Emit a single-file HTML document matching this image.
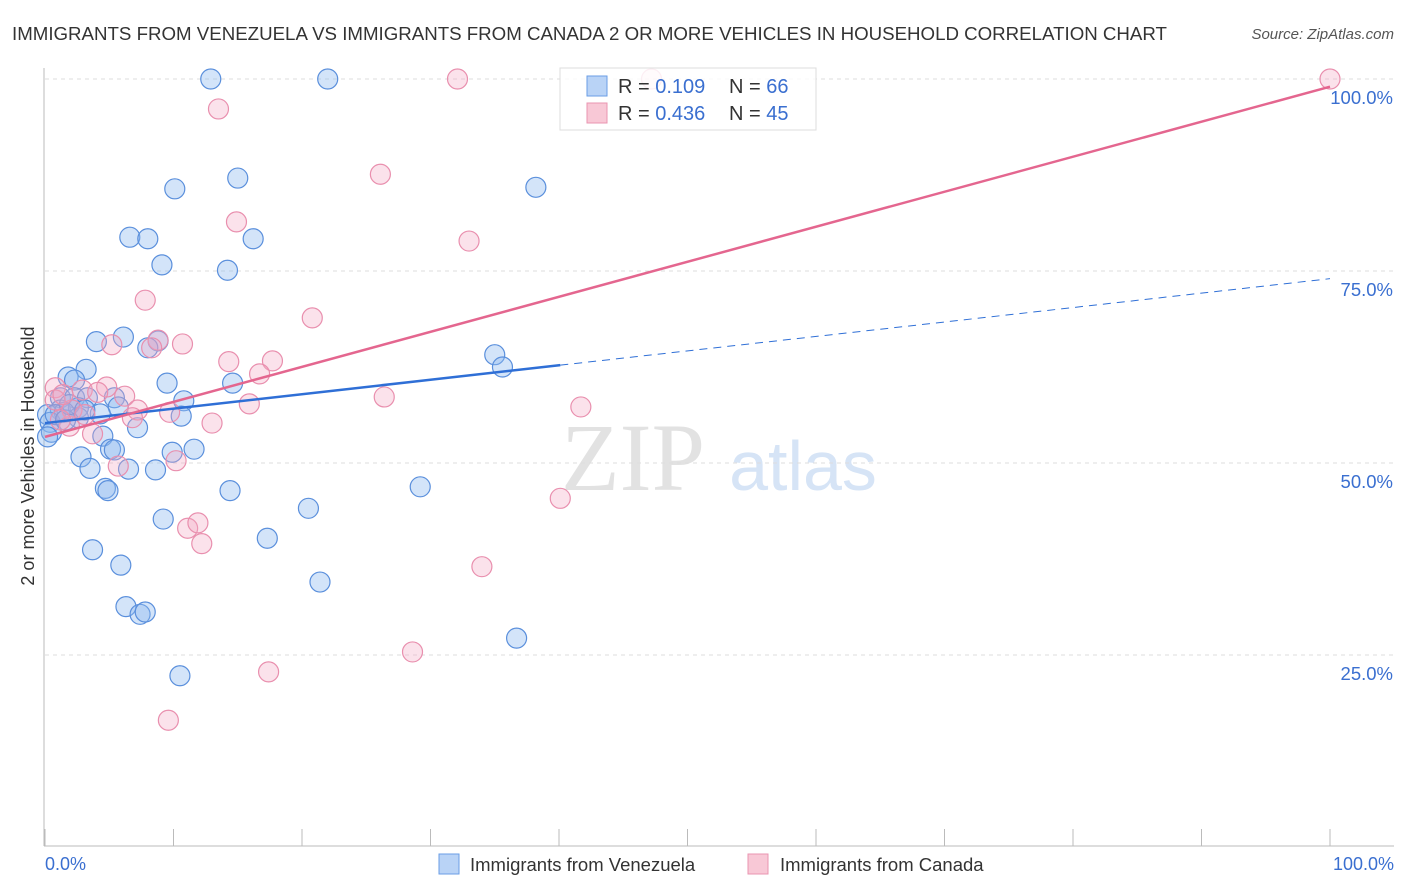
<!DOCTYPE html>
<html><head><meta charset="utf-8"><style>
body{margin:0;background:#fff;font-family:"Liberation Sans",sans-serif;}
svg{display:block}
</style></head><body>
<svg id="chart" width="1406" height="892">
<text x="12" y="40" font-size="18.7" fill="#333">IMMIGRANTS FROM VENEZUELA VS IMMIGRANTS FROM CANADA 2 OR MORE VEHICLES IN HOUSEHOLD CORRELATION CHART</text>
<text x="1394" y="39" font-size="15" fill="#555" font-style="italic" text-anchor="end">Source: ZipAtlas.com</text>
<g>
<text x="633" y="490" font-size="96" font-family="Liberation Serif,serif" fill="#e2e2e2" text-anchor="middle">ZIP</text>
<text x="803" y="490" font-size="70" fill="#d6e4f6" text-anchor="middle">atlas</text>
</g>
<g id="grid"></g><g id="axes"></g><g id="pts"></g><g id="trend"></g>
<g>
<rect x="560" y="68" width="256" height="62" fill="rgba(255,255,255,0.85)" stroke="#ddd"/>
<rect x="587" y="76" width="20" height="20" fill="#b9d3f6" stroke="#6a9ee6"/>
<rect x="587" y="103" width="20" height="20" fill="#f8c8d6" stroke="#ea94b0"/>
<text x="618" y="93" font-size="20" fill="#333">R = <tspan fill="#3a6fd0">0.109</tspan></text>
<text x="729" y="93" font-size="20" fill="#333">N = <tspan fill="#3a6fd0">66</tspan></text>
<text x="618" y="120" font-size="20" fill="#333">R = <tspan fill="#3a6fd0">0.436</tspan></text>
<text x="729" y="120" font-size="20" fill="#333">N = <tspan fill="#3a6fd0">45</tspan></text>
</g>
<text transform="translate(34,456) rotate(-90)" font-size="18" fill="#333" text-anchor="middle">2 or more Vehicles in Household</text>
<text x="45" y="870" font-size="18" fill="#3a6fd0">0.0%</text>
<text x="1394" y="870" font-size="18" fill="#3a6fd0" text-anchor="end">100.0%</text>
<g>
<rect x="439" y="854" width="20" height="20" fill="#b9d3f6" stroke="#6a9ee6"/>
<text x="470" y="871" font-size="18.5" fill="#333">Immigrants from Venezuela</text>
<rect x="748" y="854" width="20" height="20" fill="#f8c8d6" stroke="#ea94b0"/>
<text x="780" y="871" font-size="18.5" fill="#333">Immigrants from Canada</text>
</g>
</svg>
<script>
const blueX=[12.9,22.0,10.1,15.0,38.2,6.6,8.0,16.2,9.1,14.2,6.1,4.0,8.8,8.0,3.2,1.8,2.3,9.5,14.6,35.0,35.6,1.2,2.3,3.3,5.4,10.8,1.2,2.6,5.7,4.3,0.2,1.5,10.6,2.6,0.4,7.2,0.5,0.2,4.5,5.1,5.4,11.6,9.9,2.8,3.5,6.5,8.6,4.7,4.9,14.4,29.2,20.5,9.2,17.3,3.7,5.9,21.4,6.3,7.4,7.8,36.7,10.5,0.8,1.6,1.9,3.1];
const blueY=[100,100,85.7,87.1,85.9,79.4,79.2,79.2,75.8,75.1,66.4,65.8,65.9,65.0,62.2,61.2,60.8,60.4,60.4,64.1,62.5,58.5,58.5,58.5,58.5,58.1,56.9,57.2,57.3,56.4,56.3,56.6,56.1,55.9,55.3,54.6,54.0,53.4,53.5,51.8,51.7,51.8,51.4,50.8,49.3,49.2,49.1,46.7,46.4,46.4,46.9,44.1,42.7,40.2,38.7,36.7,34.5,31.3,30.3,30.6,27.2,22.3,56.3,55.6,57.6,56.9];
const pinkX=[32.1,47.2,100,13.5,26.1,14.9,33.0,7.8,20.8,8.8,10.7,5.2,8.3,14.3,17.7,16.7,0.8,2.9,4.8,4.1,6.2,26.4,15.9,41.7,7.2,9.7,6.8,13.0,3.7,1.9,2.1,0.8,10.2,5.7,40.1,11.1,11.9,12.2,34.0,28.6,17.4,9.6,1.2,3.1,1.4];
const pinkY=[100,100,100,96.1,87.6,81.4,78.9,71.2,68.9,66.0,65.5,65.4,65.0,63.2,63.3,61.6,59.8,59.5,59.9,59.2,58.7,58.6,57.7,57.3,56.9,56.6,55.9,55.2,53.8,54.8,56.9,58.2,50.3,49.6,45.4,41.5,42.2,39.5,36.5,25.4,22.8,16.5,55.6,56.3,58.9];
const blueTrend=[55.2,74.0]; // y at x=0 and x=100
const blueSolidEnd=40.1;
const pinkTrend=[53.4,99.0];
const yTicks=[25,50,75,100];
const yTickLabels=["25.0%","50.0%","75.0%","100.0%"];
const xTicks=[0,10,20,30,40,50,60,70,80,90,100];

const NS="http://www.w3.org/2000/svg";
const sx=v=>45+v*12.85, sy=v=>847-v*7.68;
function mk(tag,attrs,parent){const e=document.createElementNS(NS,tag);for(const k in attrs)e.setAttribute(k,attrs[k]);document.getElementById(parent).appendChild(e);return e;}
yTicks.forEach((t,i)=>{
 const l=mk('line',{x1:45,x2:1394,y1:sy(t),y2:sy(t),stroke:'#ddd','stroke-dasharray':'4 4'},'grid');
 
 
 const tx=mk('text',{x:1393,y:sy(t)+25,'font-size':18.5,fill:'#3a6fd0','text-anchor':'end'},'grid');
 tx.textContent=yTickLabels[i];
 
 
});
const ax=mk('line',{x1:44,x2:44,y1:68,y2:846,stroke:'#bbb'},'axes');


const bx=mk('line',{x1:44,x2:1394,y1:846,y2:846,stroke:'#bbb'},'axes');


xTicks.forEach(t=>{
 const l=mk('line',{x1:sx(t),x2:sx(t),y1:829,y2:846,stroke:'#bbb'},'axes');
 
 
});
blueX.forEach((x,i)=>{
 const c=mk('circle',{cx:sx(x),cy:sy(blueY[i]),r:10,fill:'rgba(140,184,240,0.38)',stroke:'#5a8fdc','stroke-width':1.2},'pts');
 
 
});
pinkX.forEach((x,i)=>{
 const c=mk('circle',{cx:sx(x),cy:sy(pinkY[i]),r:10,fill:'rgba(244,168,194,0.33)',stroke:'#e98fae','stroke-width':1.2},'pts');
 
 
});
const by=x=>blueTrend[0]+(blueTrend[1]-blueTrend[0])*x/100;
const l1=mk('line',{x1:sx(0),y1:sy(by(0)),x2:sx(blueSolidEnd),y2:sy(by(blueSolidEnd)),stroke:'#2f6fd6','stroke-width':2.5},'trend');


const l2=mk('line',{x1:sx(blueSolidEnd),y1:sy(by(blueSolidEnd)),x2:sx(100),y2:sy(by(100)),stroke:'#2f6fd6','stroke-width':1,'stroke-dasharray':'8 6'},'trend');


const l3=mk('line',{x1:sx(0),y1:sy(pinkTrend[0]),x2:sx(100),y2:sy(pinkTrend[1]),stroke:'#e4668f','stroke-width':2.5},'trend');


</script>
</body></html>
